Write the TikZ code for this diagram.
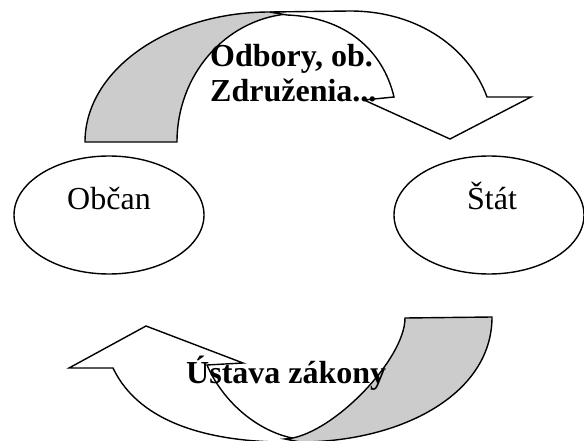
\documentclass[tikz,border=0pt]{standalone}
\usepackage{fontspec}
\setmainfont{Liberation Serif}
\usetikzlibrary{shapes.geometric}
\definecolor{backgray}{RGB}{204,204,204}
\tikzset{
    band/.style={draw, line width=1.4pt, line join=miter, fill=white},
    oval/.style={draw, ellipse, line width=1.4pt, minimum width=190pt, minimum height=118pt, inner sep=0pt},
    word/.style={inner sep=0pt, font=\fontsize{32}{36}\selectfont},
    bigword/.style={inner sep=0pt, font=\fontsize{32}{36}\selectfont\bfseries}
}
\begin{document}
\begin{tikzpicture}[x=1pt, y=-1pt]
    \useasboundingbox (0,0) rectangle (584,441);
    \draw [band, fill=backgray] (85,142) .. controls (85,70) and (168,12) .. (270,12) -- (287,14) .. controls (225,20) and (177,75) .. (177,142) -- cycle;
    \draw [band] (270,12) -- (350,11) .. controls (420,11) and (470,50) .. (487,97) -- (531,97) -- (450,139) -- (364,100) -- (394,97) .. controls (383,50) and (345,17) .. (287,15) -- cycle;
    \draw [band] (300,442) .. controls (215,444) and (140,425) .. (113,368) -- (69,368) -- (146,326) -- (243,363) -- (207,365) .. controls (222,400) and (255,430) .. (292,438) -- cycle;
    \draw [band, fill=backgray] (492,317) .. controls (492,395) and (400,442) .. (300,442) -- (285,439) .. controls (330,437) and (405,360) .. (405,318) -- cycle;
    \node [oval] (obcan) at (109,215) {};
    \node [oval] (stat) at (489,215) {};
    \node [word, anchor=base] (obcanText) at (109,210) {Občan};
    \node [word, anchor=base] (statText) at (492,210) {Štát};
    \node [bigword, anchor=base west] (unions1) at (210,67) {Odbory, ob.};
    \node [bigword, anchor=base west] (unions2) at (210,102) {Združenia...};
    \node [bigword, anchor=base west] (laws) at (186,383) {Ústava zákony};
\end{tikzpicture}
\end{document}
